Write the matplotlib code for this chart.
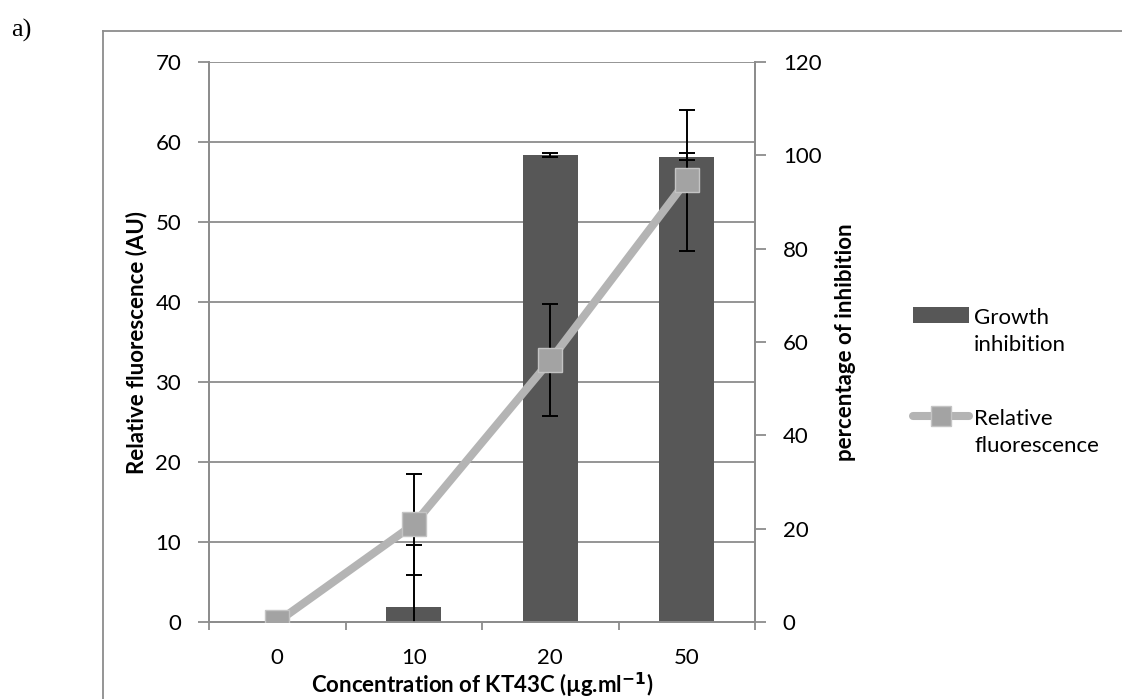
import numpy as np
import matplotlib
matplotlib.use('Agg')
import matplotlib.pyplot as plt
from matplotlib.lines import Line2D
from matplotlib.patches import Patch
from matplotlib.transforms import Affine2D
from matplotlib.legend_handler import HandlerPatch, HandlerLine2D

# Data
concentrations = ['0', '10', '20', '50']
inhibition = [0, 3.2, 100, 99.7]           # percentage of inhibition (right axis)
inhibition_err = [0, 13.3, 0.4, 0.7]
fluorescence = [0, 12.2, 32.7, 55.2]       # relative fluorescence (left axis)
fluorescence_err = [0, 6.3, 7.0, 8.8]

plt.rcParams['font.family'] = ['Lato', 'DejaVu Sans']
plt.rcParams['font.size'] = 16

BAR = '#575757'
LINE = '#b4b4b4'
GRID = '#8c8c8c'
RAISE = 0.75  # handle offset (in font sizes) so it lines up with the first label line


# legend handles sit next to the first line of a two-line label
class RaisedPatch(HandlerPatch):
    def create_artists(self, legend, orig_handle, xdescent, ydescent, width, height, fontsize, trans):
        trans = Affine2D().translate(0, RAISE * fontsize) + trans
        return super().create_artists(legend, orig_handle, xdescent, ydescent, width, height, fontsize, trans)


class RaisedLine(HandlerLine2D):
    def create_artists(self, legend, orig_handle, xdescent, ydescent, width, height, fontsize, trans):
        trans = Affine2D().translate(0, RAISE * fontsize) + trans
        return super().create_artists(legend, orig_handle, xdescent, ydescent, width, height, fontsize, trans)


fig = plt.figure(figsize=(11.22, 6.99), dpi=100)
ax = fig.add_axes([209 / 1122, 1 - 622 / 699, (755 - 209) / 1122, (622 - 62) / 699])
ax2 = ax.twinx()

x = np.arange(len(concentrations))

# bars + grid on the right (percentage) axis, drawn underneath
ax2.set_ylim(0, 120)
ax.set_ylim(0, 70)
left_ticks = np.arange(0, 71, 10)
for t in left_ticks[1:]:
    ax2.axhline(t * 120 / 70, color=GRID, lw=1.3, zorder=0)
ax2.bar(x, inhibition, 0.4, color=BAR, zorder=2)
ax2.errorbar(x, inhibition, yerr=inhibition_err, fmt='none', ecolor='black',
             elinewidth=1.4, capsize=6, capthick=1.4, zorder=3)

# line on the left axis, on top
ax.set_zorder(ax2.get_zorder() + 1)
ax.patch.set_visible(False)
ax.errorbar(x, fluorescence, yerr=fluorescence_err, fmt='none', ecolor='black',
            elinewidth=1.4, capsize=6, capthick=1.4, zorder=2)
ax.plot(x, fluorescence, color=LINE, lw=5.8, marker='s', markersize=17,
        markerfacecolor='#a3a3a3', markeredgecolor='#c4c4c4', markeredgewidth=1,
        zorder=3, solid_capstyle='round')

ax.set_xlim(-0.5, len(concentrations) - 0.5)
ax.set_xticks(x)
ax.set_xticklabels(concentrations)
ax.set_xticks(np.arange(len(concentrations) + 1) - 0.5, minor=True)
ax.tick_params(axis='x', which='major', length=0, pad=19)
ax.tick_params(axis='x', which='minor', length=6, color=GRID, width=1.3)
ax.set_yticks(left_ticks)
ax.tick_params(axis='y', length=8, color=GRID, width=1.3, pad=12)
ax2.set_yticks(np.arange(0, 121, 20))
ax2.tick_params(axis='y', length=8, color=GRID, width=1.3, pad=12)

for a in (ax, ax2):
    for s in a.spines.values():
        s.set_color(GRID)
        s.set_linewidth(1.3)
    a.spines['top'].set_visible(False)

ax.set_ylabel('Relative fluorescence (AU)', fontweight='bold', labelpad=6)
ax2.set_ylabel('percentage of inhibition', fontweight='bold', labelpad=10)
ax.set_xlabel('Concentration of KT43C (µg.ml$^{\\mathbf{-1}}$)', fontweight='bold', labelpad=2)

bar_handle = Patch(facecolor=BAR, edgecolor='none')
line_handle = Line2D([], [], color=LINE, lw=5.8, marker='s', markersize=14,
                     markerfacecolor='#a3a3a3', markeredgecolor='#c4c4c4', solid_capstyle='round')
leg = fig.legend([bar_handle, line_handle], ['Growth\ninhibition', 'Relative\nfluorescence'],
                 loc='center left', bbox_to_anchor=(893 / 1122, 1 - 382 / 699),
                 frameon=False, handlelength=2.5, handletextpad=0.25, labelspacing=2.4,
                 handleheight=0.75,
                 handler_map={Patch: RaisedPatch(), Line2D: RaisedLine()})
for t in leg.get_texts():
    t.set_linespacing(1.45)

# outer frame and panel letter
fig.add_artist(Line2D([103 / 1122, 1], [1 - 31 / 699] * 2, color=GRID, lw=1.3))
fig.add_artist(Line2D([103 / 1122] * 2, [0, 1 - 31 / 699], color=GRID, lw=1.3))
fig.text(11 / 1122, 1 - 30 / 699, 'a)', family='Liberation Serif', fontsize=19, va='center')

fig.savefig('out.png', dpi=100)
